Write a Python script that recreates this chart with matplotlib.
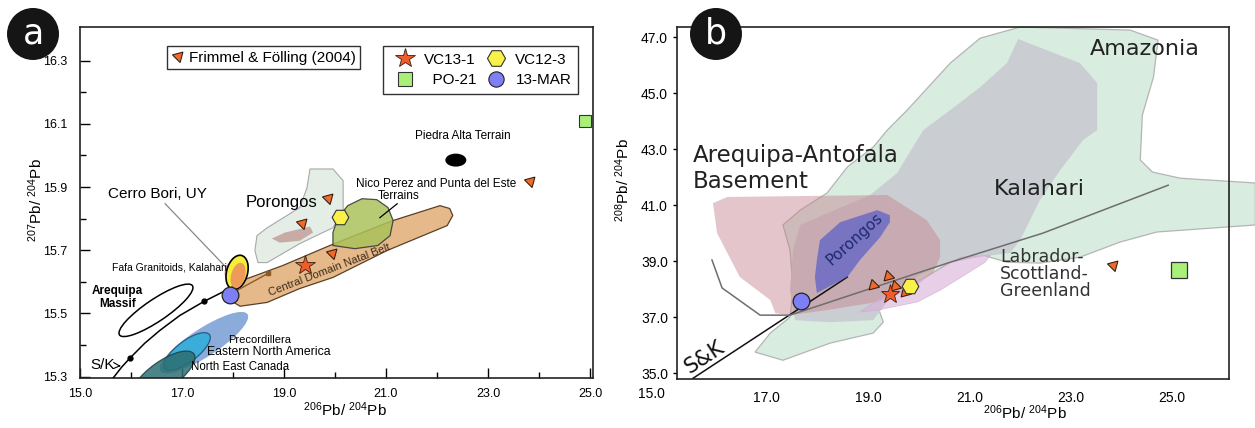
import matplotlib.pyplot as plt
import matplotlib.transforms as mtransforms
from matplotlib.patches import Polygon, Ellipse
from matplotlib.lines import Line2D

plt.rcParams['font.family'] = ['Liberation Sans', 'DejaVu Sans']
plt.rcParams['mathtext.fontset'] = 'custom'
plt.rcParams['mathtext.rm'] = 'Liberation Sans'
plt.rcParams['mathtext.it'] = 'Liberation Sans:italic'
plt.rcParams['mathtext.bf'] = 'Liberation Sans:bold'

# ==================== panel a data (206Pb/204Pb vs 207Pb/204Pb) ====================
a_xticks = [15.0, 17.0, 19.0, 21.0, 23.0, 25.0]
a_xminor = [16.0, 18.0, 20.0, 22.0, 24.0]
a_yticks = [15.3, 15.5, 15.7, 15.9, 16.1, 16.3]
a_yminor = [15.4, 15.6, 15.8, 16.0, 16.2]

frim_a_x = [19.86, 19.35, 19.94, 23.82]
frim_a_y = [15.866, 15.787, 15.690, 15.920]
vc13_a = [19.41, 15.652]
vc12_a = [20.10, 15.806]
po21_a = [24.90, 16.108]
mar_a = [17.94, 15.557]

# Stacey & Kramers curve
sk_a_x = [15.65, 15.82, 15.98, 16.27, 16.57, 16.96, 17.43, 17.75, 17.98]
sk_a_y = [15.296, 15.331, 15.359, 15.406, 15.447, 15.494, 15.538, 15.564, 15.583]
sk_a_dots_x = [15.98, 17.43]
sk_a_dots_y = [15.359, 15.538]
brown_x = [18.08, 18.69]
brown_y = [15.573, 15.627]

natal_belt = [(18.04, 15.573), (18.24, 15.608), (18.98, 15.652), (19.90, 15.715),
              (21.12, 15.793), (22.06, 15.841), (22.25, 15.832), (22.31, 15.810),
              (22.20, 15.778), (21.02, 15.699), (19.96, 15.614), (19.31, 15.579),
              (18.67, 15.535), (18.14, 15.523), (17.94, 15.542)]
nico_perez = [(19.96, 15.715), (20.39, 15.705), (20.84, 15.715), (21.08, 15.746),
              (21.14, 15.794), (21.04, 15.835), (20.82, 15.860), (20.53, 15.863),
              (20.25, 15.841), (20.06, 15.803), (19.96, 15.756)]
porongos_a = [(19.51, 15.957), (19.96, 15.957), (20.16, 15.920), (20.16, 15.825),
              (19.96, 15.771), (19.71, 15.752), (19.31, 15.721), (18.67, 15.661),
              (18.49, 15.661), (18.43, 15.699), (18.47, 15.746), (18.67, 15.771),
              (19.31, 15.835), (19.45, 15.897)]
porongos_core_a = [(18.76, 15.737), (19.02, 15.756), (19.51, 15.775), (19.57, 15.756),
                   (19.31, 15.730), (18.92, 15.724)]

arequipa_c = (16.49, 15.51)
precord_c = (17.43, 15.408)
ena_c = (17.10, 15.38)
nec_c = (16.64, 15.305)
fafa_c = (18.08, 15.63)
fafa_core_c = (18.10, 15.62)
fafa_pink_c = (17.92, 15.636)
piedra_c = (22.37, 15.985)

# ==================== panel b data (206Pb/204Pb vs 208Pb/204Pb) ====================
b_xticks = [17.0, 19.0, 21.0, 23.0, 25.0]
b_yticks = [35.0, 37.0, 39.0, 41.0, 43.0, 45.0, 47.0]

frim_b_x = [19.10, 19.39, 19.53, 19.73]
frim_b_y = [38.14, 38.46, 38.11, 37.89]
lsg_b = [23.84, 38.86]
vc13_b = [19.43, 37.82]
vc12_b = [19.83, 38.11]
po21_b = [25.14, 38.68]
mar_b = [17.68, 37.57]

amazonia = [(22.00, 47.36), (24.17, 47.25), (24.72, 46.89), (24.63, 45.57), (24.41, 44.21),
            (24.37, 42.61), (24.61, 42.18), (25.16, 41.96), (26.64, 41.79), (26.64, 40.29),
            (24.70, 40.04), (23.97, 39.68), (23.18, 39.14), (22.39, 38.93), (21.74, 38.96),
            (21.27, 39.21), (20.62, 38.96), (20.03, 38.32), (19.43, 37.68), (19.18, 37.43),
            (19.30, 36.82), (19.10, 36.43), (18.25, 36.07), (17.32, 35.46), (16.77, 35.75),
            (17.07, 36.43), (17.46, 37.00), (17.52, 37.96), (17.46, 39.39), (17.32, 40.29),
            (17.66, 40.82), (18.19, 41.43), (18.59, 42.36), (19.10, 43.07), (19.38, 43.68),
            (19.77, 44.39), (20.62, 46.07), (21.21, 46.96)]
kalahari = [(21.96, 46.93), (23.18, 46.07), (23.52, 45.36), (23.52, 43.68), (23.24, 43.32),
            (22.79, 42.25), (22.39, 41.18), (22.00, 39.75), (21.80, 39.29), (21.01, 39.11),
            (20.42, 38.86), (19.63, 38.14), (19.10, 36.89), (18.25, 36.82), (17.56, 36.89),
            (17.46, 37.96), (17.52, 39.39), (17.66, 40.29), (19.04, 41.36), (19.57, 42.14),
            (20.09, 43.68), (20.62, 44.39), (21.21, 45.21), (21.74, 46.07)]
arequipa_b = [(15.94, 41.07), (16.22, 41.29), (19.38, 41.36), (20.16, 40.46), (20.42, 39.75),
              (20.42, 39.14), (20.28, 38.57), (19.83, 37.96), (19.18, 37.54), (18.19, 37.25),
              (17.46, 37.07), (17.17, 37.14), (17.07, 37.61), (16.47, 38.43), (16.02, 40.00)]
lavender_b = [(19.18, 37.61), (20.28, 38.57), (20.82, 39.14), (21.41, 39.21), (21.31, 38.96),
              (20.42, 37.96), (19.97, 37.54), (19.18, 37.25), (18.84, 37.18)]
porongos_b = [(17.99, 39.04), (18.05, 39.75), (18.45, 40.39), (19.18, 40.82), (19.43, 40.64),
              (19.43, 40.39), (19.24, 39.86), (18.84, 39.04), (18.59, 38.43), (17.99, 37.86),
              (17.95, 38.43)]
sk_b_x = [15.55, 18.59]
sk_b_y = [34.82, 38.43]
growth_b_x = [17.46, 20.62, 22.45, 24.92]
growth_b_y = [37.07, 38.96, 40.00, 41.71]
bound_b_x = [15.92, 16.12, 16.87, 17.46]
bound_b_y = [39.04, 38.04, 37.07, 37.07]

# ==================== styles ====================
ORANGE = '#F26A2A'
EDGE = '#3A2010'
TRI_A = (3, 0, 75)
TRI_B = (3, 0, 15)


def px_ellipse(ax, center, w, h, angle, **kw):
    """ellipse sized in pixels, centred on a data point"""
    trans = ax.figure.dpi_scale_trans + mtransforms.ScaledTranslation(center[0], center[1], ax.transData)
    ax.add_patch(Ellipse((0, 0), w / 100.0, h / 100.0, angle=angle, transform=trans, **kw))


def style_axes(ax):
    for s in ax.spines.values():
        s.set_linewidth(1.2)
        s.set_color('#222222')


fig = plt.figure(figsize=(12.55, 4.28), dpi=100)

# ---------------------------------------------------------------- panel a
ax = fig.add_axes([0.06375, 0.11682, 0.40876, 0.8201])
ax.set_xlim(15.0, 25.06)
ax.set_ylim(15.296, 16.406)
style_axes(ax)

ax.add_patch(Polygon(porongos_a, closed=True, fc='#E4EEE6', ec='#A8A8A8', lw=0.8, zorder=1))
ax.add_patch(Polygon(porongos_core_a, closed=True, fc='#C9ABA6', ec='none', zorder=1.5))
ax.add_patch(Polygon(natal_belt, closed=True, fc='#E6B98A', ec='#5A4028', lw=0.9, zorder=2,
                     joinstyle='round'))
ax.add_patch(Polygon(nico_perez, closed=True, fc='#A9C25A', ec='#333333', lw=0.9, alpha=0.85, zorder=2.5))

px_ellipse(ax, precord_c, 104, 28, 33, fc='#7EA3D6', ec='none', alpha=0.9, zorder=2)
px_ellipse(ax, ena_c, 56, 21, 37, fc='#1FB0D8', ec='#1B3F66', lw=0.9, alpha=0.75, zorder=2.2)
px_ellipse(ax, nec_c, 74, 28, 35, fc='#2C6E72', ec='#1B3F40', lw=0.9, alpha=0.85, zorder=2.3)
px_ellipse(ax, arequipa_c, 88, 22, 34, fc='none', ec='black', lw=1.1, zorder=3)
px_ellipse(ax, fafa_pink_c, 16, 8, 75, fc='#EBA2B4', ec='none', zorder=3.5)
px_ellipse(ax, fafa_c, 35, 21, 75, fc='#F6EC3A', ec='black', lw=1.2, zorder=3.6)
px_ellipse(ax, fafa_core_c, 26, 14, 75, fc='#EE9A5A', ec='none', zorder=3.7)
px_ellipse(ax, piedra_c, 21, 13, 0, fc='black', ec='none', zorder=4)

ax.plot(sk_a_x, sk_a_y, color='black', lw=1.1, zorder=5)
ax.plot(sk_a_dots_x, sk_a_dots_y, 'o', color='black', ms=3.5, zorder=5)
ax.plot(brown_x, brown_y, color='#8B5A2B', lw=1.0, zorder=5)
ax.plot(brown_x[-1:], brown_y[-1:], 's', color='#8B5A2B', ms=3.5, zorder=5)

ax.plot(frim_a_x, frim_a_y, ls='none', marker=TRI_A, ms=9, mfc=ORANGE, mec=EDGE, mew=0.8, zorder=6)
ax.plot(*vc13_a, ls='none', marker='*', ms=15, mfc='#F25C2A', mec=EDGE, mew=0.6, zorder=6)
ax.plot(*vc12_a, ls='none', marker='H', ms=12, mfc='#FAF04A', mec='#333333', mew=0.8, zorder=6)
ax.plot(*po21_a, ls='none', marker='s', ms=8, mfc='#A8F07A', mec='#333333', mew=0.8, zorder=6)
ax.plot(*mar_a, ls='none', marker='o', ms=12, mfc='#7F7FF5', mec='#222222', mew=0.9, zorder=6)

# labels and leader lines
ax.plot([16.67, 17.90], [15.847, 15.640], color='#888888', lw=0.9, zorder=3)
ax.plot([21.22, 20.88], [15.847, 15.803], color='black', lw=0.9, zorder=6)
ax.text(16.51, 15.878, 'Cerro Bori, UY', fontsize=11, ha='center', va='center', zorder=7)
ax.text(18.96, 15.850, 'Porongos', fontsize=12, ha='center', va='center', zorder=7)
ax.text(22.50, 16.060, 'Piedra Alta Terrain', fontsize=8.5, ha='center', va='center', zorder=7)
ax.text(21.98, 15.910, 'Nico Perez and Punta del Este', fontsize=8.5, ha='center', va='center', zorder=7)
ax.text(21.25, 15.870, 'Terrains', fontsize=8.5, ha='center', va='center', zorder=7)
ax.text(19.90, 15.636, 'Central Domain Natal Belt', fontsize=8, rotation=21, color='#3A2A1A',
        ha='center', va='center', zorder=7)
ax.text(17.88, 15.645, 'Fafa Granitoids, Kalahari', fontsize=7.5, ha='right', va='center', zorder=7)
ax.text(15.73, 15.550, 'Arequipa\nMassif', fontsize=8.5, fontweight='bold', ha='center', va='center',
        linespacing=1.1, zorder=7)
ax.text(18.53, 15.415, 'Precordillera', fontsize=8, ha='center', va='center', zorder=7)
ax.text(18.71, 15.378, 'Eastern North America', fontsize=8.8, ha='center', va='center', zorder=7)
ax.text(18.14, 15.331, 'North East Canada', fontsize=8.3, ha='center', va='center', zorder=7)
ax.annotate('S/K', xy=(15.80, 15.334), xytext=(15.45, 15.337), fontsize=11, ha='center', va='center',
            arrowprops=dict(arrowstyle='->', color='black', lw=0.8, shrinkA=1, shrinkB=0), zorder=7)

ax.set_xticks(a_xticks)
ax.set_xticks(a_xminor, minor=True)
ax.set_yticks(a_yticks)
ax.set_yticks(a_yminor, minor=True)
ax.set_xticklabels([f'{v:.1f}' for v in a_xticks])
ax.set_yticklabels([f'{v:.1f}' for v in a_yticks])
ax.tick_params(which='major', direction='in', length=7, width=1.0, labelsize=9)
ax.tick_params(which='minor', direction='in', length=4, width=1.0)
ax.tick_params(axis='y', which='major', pad=9)
ax.tick_params(axis='x', which='major', pad=7)

ax.set_xlabel(r'$^{206}$Pb/ $^{204}$Pb', fontsize=11)
ax.xaxis.set_label_coords(0.517, -0.065)
ax.set_ylabel(r'$^{207}$Pb/ $^{204}$Pb', fontsize=11)
ax.yaxis.set_label_coords(-0.068, 0.507)

frim_handle = Line2D([], [], ls='none', marker=TRI_A, ms=9, mfc=ORANGE, mec=EDGE, mew=0.8)
leg1 = ax.legend([frim_handle], ['Frimmel & Fölling (2004)'], loc='upper left', bbox_to_anchor=(0.17, 0.946),
                 borderaxespad=0, fancybox=False, edgecolor='#333333', fontsize=11,
                 handlelength=0.8, handletextpad=0.3, borderpad=0.3, framealpha=1)
leg1.get_frame().set_linewidth(1.0)
ax.add_artist(leg1)

h_star = Line2D([], [], ls='none', marker='*', ms=15, mfc='#F25C2A', mec=EDGE, mew=0.6)
h_sq = Line2D([], [], ls='none', marker='s', ms=10, mfc='#A8F07A', mec='#333333', mew=0.8)
h_hex = Line2D([], [], ls='none', marker='H', ms=13, mfc='#FAF04A', mec='#333333', mew=0.8)
h_circ = Line2D([], [], ls='none', marker='o', ms=11, mfc='#7F7FF5', mec='#222222', mew=0.8)
leg2 = ax.legend([h_star, h_sq, h_hex, h_circ], ['VC13-1', '  PO-21', 'VC12-3', '13-MAR'], ncol=2,
                 loc='upper left', bbox_to_anchor=(0.59, 0.946), borderaxespad=0, fancybox=False,
                 edgecolor='#333333', fontsize=11, handlelength=2.0, handletextpad=0.25,
                 columnspacing=0.3, labelspacing=0.4, borderpad=0.45, framealpha=1)
leg2.get_frame().set_linewidth(1.0)

# ---------------------------------------------------------------- panel b
bx = fig.add_axes([0.53944, 0.11449, 0.43984, 0.82243])
bx.set_xlim(15.23, 26.12)
bx.set_ylim(34.79, 47.36)
style_axes(bx)

bx.add_patch(Polygon(amazonia, closed=True, fc='#D8ECDF', ec='#B5B5B5', lw=0.9, zorder=1, clip_on=False))
bx.add_patch(Polygon(kalahari, closed=True, fc='#CACED2', ec='none', zorder=2))
bx.add_patch(Polygon(arequipa_b, closed=True, fc='#C4808C', ec='none', alpha=0.45, zorder=3))
bx.add_patch(Polygon(lavender_b, closed=True, fc='#D8B0D8', ec='#CFA5CF', lw=0.6, alpha=0.6, zorder=3.2))
bx.plot(sk_b_x, sk_b_y, color='#111111', lw=1.1, zorder=3.5)
bx.add_patch(Polygon(porongos_b, closed=True, fc='#5A5FC8', ec='none', alpha=0.72, zorder=4))
bx.plot(growth_b_x, growth_b_y, color='#6E6E6E', lw=1.1, zorder=4.5)
bx.plot(bound_b_x, bound_b_y, color='#6E6E6E', lw=1.1, zorder=4.5)

bx.plot(frim_b_x, frim_b_y, ls='none', marker=TRI_B, ms=9, mfc=ORANGE, mec=EDGE, mew=0.8, zorder=6)
bx.plot(*lsg_b, ls='none', marker=TRI_A, ms=9, mfc=ORANGE, mec=EDGE, mew=0.8, zorder=6)
bx.plot(*vc12_b, ls='none', marker='H', ms=12, mfc='#FAF04A', mec='#333333', mew=0.8, zorder=6)
bx.plot(*vc13_b, ls='none', marker='*', ms=14, mfc='#F25C2A', mec=EDGE, mew=0.6, zorder=6.5)
bx.plot(*po21_b, ls='none', marker='s', ms=11, mfc='#A8F07A', mec='#333333', mew=0.9, zorder=6)
bx.plot(*mar_b, ls='none', marker='o', ms=12, mfc='#7F7FF5', mec='#222222', mew=0.9, zorder=6)

bx.text(24.45, 46.57, 'Amazonia', family='DejaVu Sans', fontsize=16, color='#222222',
        ha='center', va='center', zorder=7)
bx.text(22.37, 41.57, 'Kalahari', family='DejaVu Sans', fontsize=16, color='#222222',
        ha='center', va='center', zorder=7)
bx.text(15.55, 42.30, 'Arequipa-Antofala\nBasement', family='DejaVu Sans', fontsize=16.5, color='#222222',
        ha='left', va='center', linespacing=1.15, zorder=7)
bx.text(21.60, 38.54, 'Labrador-\nScottland-\nGreenland', family='DejaVu Sans', fontsize=12.5,
        color='#333333', ha='left', va='center', linespacing=0.95, zorder=7)
bx.text(18.74, 39.79, 'Porongos', family='DejaVu Sans', fontsize=11, color='#1F2A6B', rotation=42,
        ha='center', va='center', zorder=7)
bx.text(15.78, 35.57, 'S&K', family='DejaVu Sans', fontsize=15, color='#111111', rotation=33,
        ha='center', va='center', zorder=7)

bx.set_xticks(b_xticks)
bx.set_yticks(b_yticks)
bx.set_xticklabels([f'{v:.1f}' for v in b_xticks])
bx.set_yticklabels([f'{v:.1f}' for v in b_yticks])
bx.tick_params(axis='y', direction='out', length=3, width=1.0, labelsize=10)
bx.tick_params(axis='x', length=0, labelsize=10, pad=9)
bx.text(14.72, 34.27, '15.0', fontsize=10, ha='center', va='center', clip_on=False)

bx.set_xlabel(r'$^{206}$Pb/ $^{204}$Pb', fontsize=11)
bx.xaxis.set_label_coords(0.63, -0.068)
bx.set_ylabel(r'$^{208}$Pb/ $^{204}$Pb', fontsize=11)
bx.yaxis.set_label_coords(-0.082, 0.565)

# panel letters
for cx, letter in [(0.0263, 'a'), (0.5705, 'b')]:
    fig.add_artist(Ellipse((cx, 0.9206), 52 / 1255, 52 / 428, transform=fig.transFigure,
                           fc='#151515', ec='none', zorder=10))
    fig.text(cx, 0.9206, letter, color='white', fontsize=25, family='DejaVu Sans',
             ha='center', va='center', zorder=11)

fig.savefig('out.png', dpi=100)
